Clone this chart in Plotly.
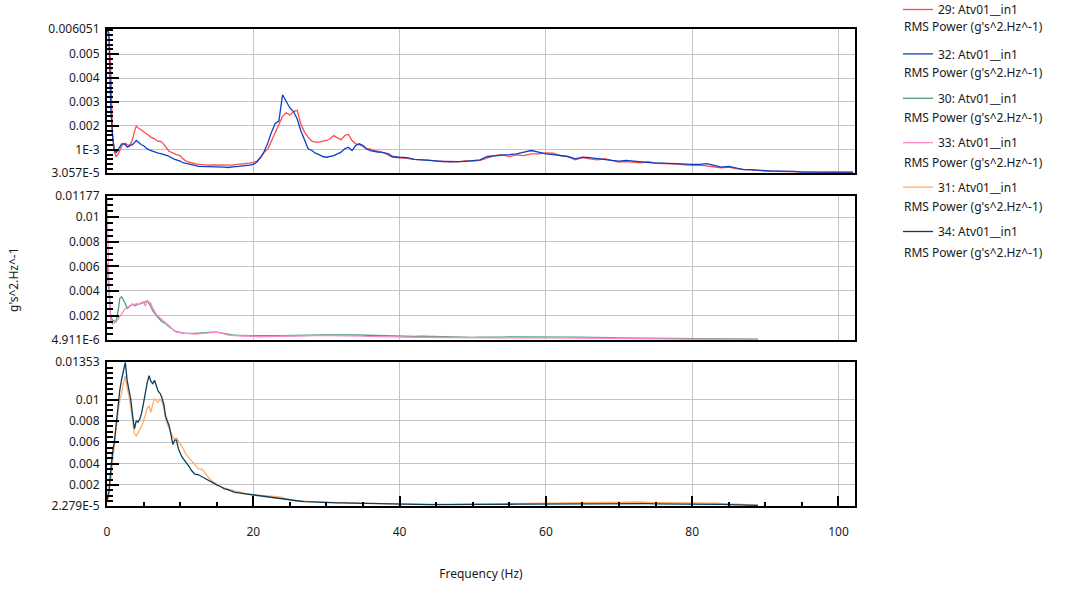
import plotly.graph_objects as go

# ---------------- data (values in units of 1e-3 g's^2/Hz) ----------------
freq = [
    0, 0.25, 0.5, 0.75, 1, 1.25, 1.5, 1.75, 2, 2.25, 2.5, 2.75, 3, 3.25, 3.5, 3.75,
    4, 4.25, 4.5, 4.75, 5, 5.25, 5.5, 5.75, 6, 6.25, 6.5, 6.75, 7, 7.25, 7.5, 7.75,
    8, 8.25, 8.5, 8.75, 9, 9.25, 9.5, 9.75, 10, 10.25, 10.5, 10.75, 11, 11.25, 11.5, 11.75,
    12,
    12.5, 13, 13.5, 14, 14.5, 15, 15.5, 16, 16.5, 17, 17.5, 18, 18.5, 19, 19.5, 20,
    20.5, 21, 21.5, 22, 22.5, 23, 23.5, 24, 24.5, 25, 25.5, 26, 26.5, 27, 27.5, 28,
    28.5, 29, 29.5, 30, 30.5, 31, 31.5, 32, 32.5, 33, 33.5, 34, 34.5, 35, 35.5, 36,
    36.5, 37, 37.5, 38, 38.5, 39, 39.5, 40,
    41, 42, 43, 44, 45, 46, 47, 48, 49, 50, 51, 52, 53, 54, 55, 56, 57, 58, 59, 60,
    61, 62, 63, 64, 65, 66, 67, 68, 69, 70, 71, 72, 73, 74, 75, 76, 77, 78, 79, 80,
    81, 82, 83, 84, 85, 86, 87, 88, 89, 90, 91, 92, 93, 94, 95, 96, 97, 98, 99, 100,
    101, 102,
]

psd_29 = [
    6.05, 5.8, 4.5, 1.7, 0.9, 0.72, 0.8, 1.0,
    1.15, 1.25, 1.28, 1.22, 1.18, 1.25, 1.45, 1.75,
    1.99, 1.92, 1.87, 1.8, 1.74, 1.7, 1.67, 1.6,
    1.53, 1.5, 1.46, 1.4, 1.35, 1.36, 1.32, 1.24,
    1.14, 1.02, 0.93, 0.9, 0.86, 0.84, 0.8, 0.78,
    0.76, 0.66, 0.58, 0.54, 0.51, 0.48, 0.46, 0.44,
    0.42,
    0.39, 0.375, 0.37, 0.36, 0.37, 0.36, 0.35, 0.35,
    0.36, 0.36, 0.37, 0.39, 0.4, 0.42, 0.44, 0.47,
    0.53, 0.67, 0.9, 1.04, 1.39, 1.67, 2.08, 2.4,
    2.55, 2.45, 2.6, 2.65, 2.08, 1.74, 1.53, 1.36,
    1.32, 1.32, 1.36, 1.39, 1.46, 1.6, 1.5, 1.42,
    1.6, 1.65, 1.39, 1.25, 1.22, 1.14, 1.04, 1.04,
    0.97, 0.94, 0.9, 0.86, 0.76, 0.69, 0.67, 0.67,
    0.64, 0.6, 0.6, 0.57, 0.53, 0.5, 0.52, 0.5, 0.55, 0.53,
    0.56, 0.67, 0.76, 0.8, 0.72, 0.79, 0.76, 0.83, 0.83, 0.875,
    0.86, 0.76, 0.72, 0.58, 0.67, 0.625, 0.58, 0.625, 0.56, 0.49,
    0.51, 0.49, 0.46, 0.5, 0.44, 0.42, 0.42, 0.4, 0.375, 0.35,
    0.36, 0.33, 0.31, 0.25, 0.28, 0.21, 0.18, 0.17, 0.14, 0.11,
    0.1, 0.09, 0.08, 0.08, 0.07, 0.07, 0.06, 0.06, 0.07, 0.06,
    0.06, 0.06,
]

psd_32 = [
    6.0, 5.9, 2.85, 1.6, 0.97, 0.88, 1.0, 1.11,
    1.25, 1.25, 1.22, 1.12, 1.14, 1.2, 1.22, 1.3,
    1.39, 1.33, 1.25, 1.2, 1.18, 1.1, 1.04, 1.0,
    0.97, 0.93, 0.9, 0.88, 0.86, 0.85, 0.83, 0.82,
    0.8, 0.76, 0.72, 0.67, 0.625, 0.6, 0.58, 0.56,
    0.53, 0.48, 0.44, 0.43, 0.42, 0.41, 0.39, 0.37,
    0.35,
    0.31, 0.31, 0.3, 0.29, 0.29, 0.29, 0.28, 0.28,
    0.26, 0.29, 0.3, 0.31, 0.32, 0.33, 0.36, 0.39,
    0.49, 0.69, 0.94, 1.3, 1.75, 2.1, 2.2, 3.3,
    3.0, 2.75, 2.6, 2.29, 1.8, 1.39, 1.04, 0.97,
    0.86, 0.8, 0.72, 0.69, 0.72, 0.76, 0.83, 0.9,
    1.04, 1.11, 0.97, 1.18, 1.25, 1.18, 1.04, 0.97,
    0.94, 0.9, 0.9, 0.86, 0.83, 0.72, 0.69, 0.69,
    0.67, 0.6, 0.58, 0.55, 0.53, 0.52, 0.5, 0.5, 0.52, 0.55,
    0.58, 0.72, 0.76, 0.78, 0.8, 0.83, 0.9, 0.97, 0.9, 0.83,
    0.8, 0.76, 0.72, 0.625, 0.69, 0.67, 0.625, 0.6, 0.56, 0.53,
    0.56, 0.53, 0.49, 0.47, 0.44, 0.44, 0.42, 0.42, 0.39, 0.39,
    0.39, 0.42, 0.35, 0.28, 0.31, 0.24, 0.17, 0.17, 0.14, 0.14,
    0.11, 0.11, 0.11, 0.1, 0.07, 0.07, 0.07, 0.07, 0.07, 0.07,
    0.07, 0.07,
]

psd_30 = [
    6.3, 4.0, 2.0, 1.6, 1.57, 1.5, 2.3, 3.4,
    3.52, 3.3, 2.98, 2.57, 2.71, 2.85, 2.93, 2.8,
    2.85, 2.9, 2.93, 2.95, 3.03, 3.1, 3.2, 3.0,
    2.71, 2.4, 2.17, 2.0, 1.84, 1.65, 1.49, 1.42,
    1.35, 1.2, 1.08, 0.95, 0.81, 0.74, 0.68, 0.64,
    0.6, 0.58, 0.56, 0.55, 0.54, 0.54, 0.53, 0.54,
    0.54,
    0.57, 0.6, 0.61, 0.62, 0.64, 0.65, 0.6, 0.54,
    0.46, 0.41, 0.39, 0.38, 0.36, 0.35, 0.35, 0.35,
    0.35, 0.36, 0.35, 0.35, 0.37, 0.36, 0.35, 0.35,
    0.36, 0.38, 0.37, 0.36, 0.38, 0.39, 0.4, 0.41,
    0.42, 0.42, 0.41, 0.41, 0.42, 0.43, 0.42, 0.41,
    0.42, 0.43, 0.42, 0.41, 0.4, 0.41, 0.39, 0.38,
    0.37, 0.36, 0.35, 0.35, 0.34, 0.33, 0.33, 0.33,
    0.32, 0.3, 0.32, 0.3, 0.33, 0.3, 0.28, 0.25, 0.24, 0.22,
    0.24, 0.22, 0.25, 0.24, 0.26, 0.25, 0.27, 0.26, 0.25, 0.26,
    0.24, 0.25, 0.23, 0.24, 0.22, 0.21, 0.2, 0.21, 0.19, 0.18,
    0.17, 0.18, 0.16, 0.16, 0.15, 0.15, 0.14, 0.13, 0.13, 0.12,
    0.12, 0.11, 0.11, 0.1, 0.1, 0.09, 0.09, 0.08, 0.08, None,
    None, None, None, None, None, None, None, None, None, None,
    None, None,
]

psd_33 = [
    11.77, 5.0, 1.6, 1.3, 1.41, 1.5, 1.68, 1.9,
    2.17, 2.4, 2.57, 2.65, 2.76, 2.85, 2.93, 2.85,
    2.98, 2.9, 2.98, 3.05, 3.12, 2.76, 3.2, 3.1,
    2.98, 2.6, 2.3, 2.1, 1.95, 1.8, 1.63, 1.5,
    1.41, 1.28, 1.14, 0.97, 0.81, 0.72, 0.65, 0.62,
    0.6, 0.58, 0.56, 0.55, 0.54, 0.52, 0.5, 0.5,
    0.49,
    0.5, 0.54, 0.56, 0.6, 0.62, 0.65, 0.58, 0.49,
    0.42, 0.38, 0.35, 0.33, 0.33, 0.33, 0.3, 0.27,
    0.27, 0.27, 0.28, 0.27, 0.28, 0.3, 0.3, 0.31,
    0.32, 0.34, 0.35, 0.36, 0.37, 0.38, 0.38, 0.39,
    0.39, 0.4, 0.4, 0.38, 0.37, 0.37, 0.36, 0.36,
    0.35, 0.34, 0.34, 0.33, 0.32, 0.32, 0.3, 0.3,
    0.29, 0.28, 0.27, 0.27, 0.26, 0.26, 0.25, 0.25,
    0.24, 0.23, 0.22, 0.22, 0.22, 0.21, 0.2, 0.19, 0.18, 0.16,
    0.17, 0.17, 0.18, 0.18, 0.19, 0.2, 0.2, 0.21, 0.2, 0.2,
    0.19, 0.19, 0.18, 0.17, 0.16, 0.16, 0.15, 0.14, 0.14, 0.13,
    0.12, 0.12, 0.11, 0.11, 0.1, 0.1, 0.09, 0.09, 0.08, 0.08,
    0.08, 0.07, 0.07, 0.07, 0.06, 0.06, 0.06, 0.06, 0.06, None,
    None, None, None, None, None, None, None, None, None, None,
    None, None,
]

psd_31 = [
    0.3, 0.9, 2.5, 4.2, 5.4, 7.0, 8.8, 9.9,
    10.6, 11.6, 12.2, 11.1, 10.4, 9.3, 8.0, 6.8,
    6.6, 6.9, 7.2, 7.56, 8.0, 8.6, 9.2, 9.4,
    8.8, 9.6, 10.1, 9.9, 9.75, 10.1, 9.8, 9.3,
    8.2, 7.7, 7.25, 6.8, 6.5, 6.3, 6.4, 6.15,
    5.8, 5.6, 5.3, 4.9, 4.7, 4.5, 4.3, 4.0,
    3.8,
    3.5, 3.45, 3.0, 2.6, 2.3, 2.05, 1.85, 1.72,
    1.6, 1.48, 1.42, 1.38, 1.25, 1.16, 1.1, 1.06,
    1.05, 1.0, 1.0, 0.97, 0.94, 0.92, 0.88, 0.84,
    0.7, 0.6, 0.53, 0.5, 0.48, 0.45, 0.43, 0.42,
    0.4, 0.39, 0.38, 0.37, 0.36, 0.35, 0.33, 0.33,
    0.32, 0.32, 0.31, 0.31, 0.3, 0.3, 0.29, 0.28,
    0.28, 0.27, 0.26, 0.26, 0.25, 0.24, 0.23, 0.23,
    0.22, 0.2, 0.2, 0.18, 0.17, 0.18, 0.17, 0.19, 0.2, 0.2,
    0.21, 0.21, 0.22, 0.23, 0.24, 0.25, 0.27, 0.28, 0.3, 0.33,
    0.33, 0.34, 0.35, 0.34, 0.36, 0.37, 0.37, 0.38, 0.38, 0.39,
    0.42, 0.46, 0.4, 0.36, 0.36, 0.35, 0.36, 0.35, 0.34, 0.34,
    0.33, 0.3, 0.28, 0.25, 0.22, 0.18, 0.15, 0.13, 0.1, None,
    None, None, None, None, None, None, None, None, None, None,
    None, None,
]

psd_34 = [
    0.5, 1.4, 3.2, 5.0, 6.0, 7.6, 9.6, 10.9,
    11.9, 12.8, 13.5, 11.8, 11.0, 10.0, 8.5, 7.25,
    8.0, 7.9, 8.2, 8.8, 9.7, 10.7, 11.6, 12.25,
    11.7, 11.5, 11.8, 11.3, 10.8, 10.6, 10.2, 9.6,
    8.5, 8.0, 7.56, 6.7, 5.8, 6.2, 6.2, 5.4,
    4.9, 4.6, 4.4, 4.2, 4.0, 3.7, 3.4, 3.2,
    3.0,
    2.95, 2.75, 2.55, 2.35, 2.2, 2.0, 1.85, 1.65,
    1.55, 1.4, 1.3, 1.25, 1.2, 1.15, 1.1, 1.06,
    1.03, 1.0, 0.95, 0.9, 0.84, 0.8, 0.72, 0.69,
    0.62, 0.55, 0.52, 0.5, 0.47, 0.44, 0.42, 0.4,
    0.39, 0.38, 0.37, 0.36, 0.34, 0.33, 0.31, 0.31,
    0.3, 0.3, 0.3, 0.3, 0.3, 0.3, 0.28, 0.27,
    0.26, 0.25, 0.24, 0.22, 0.2, 0.18, 0.17, 0.16,
    0.16, 0.15, 0.16, 0.15, 0.16, 0.15, 0.17, 0.16, 0.17, 0.16,
    0.17, 0.18, 0.17, 0.18, 0.2, 0.19, 0.2, 0.21, 0.22, 0.23,
    0.22, 0.23, 0.22, 0.23, 0.23, 0.22, 0.23, 0.24, 0.23, 0.26,
    0.24, 0.23, 0.23, 0.24, 0.23, 0.23, 0.22, 0.23, 0.24, 0.23,
    0.22, 0.2, 0.19, 0.18, 0.16, 0.14, 0.12, 0.1, 0.08, None,
    None, None, None, None, None, None, None, None, None, None,
    None, None,
]

names = ["29: Atv01__in1", "32: Atv01__in1", "30: Atv01__in1",
         "33: Atv01__in1", "31: Atv01__in1", "34: Atv01__in1"]
legend_subtitle = "RMS Power (g's^2.Hz^-1)"
y_title = "g's^2.Hz^-1"
x_title = "Frequency (Hz)"

# tick values / labels for each panel
top_tickvals = [3.057e-5, 0.001, 0.002, 0.003, 0.004, 0.005, 0.006051]
top_ticktext = ["3.057E-5", "1E-3", "0.002", "0.003", "0.004", "0.005", "0.006051"]
mid_tickvals = [4.911e-6, 0.002, 0.004, 0.006, 0.008, 0.01, 0.01177]
mid_ticktext = ["4.911E-6", "0.002", "0.004", "0.006", "0.008", "0.01", "0.01177"]
bot_tickvals = [2.279e-5, 0.002, 0.004, 0.006, 0.008, 0.01, 0.01353]
bot_ticktext = ["2.279E-5", "0.002", "0.004", "0.006", "0.008", "0.01", "0.01353"]
x_range = [0, 102.26]

UNIT = 1e-3
series = [psd_29, psd_32, psd_30, psd_33, psd_31, psd_34]
for s in series:
    assert len(s) == len(freq), (len(s), len(freq))

colors = ["#FF4B4B", "#0B3FC6", "#4E9E78", "#FF86D0", "#FFAE6B", "#0A3D5E"]
yaxes = ["y", "y", "y2", "y2", "y3", "y3"]
xaxes = ["x", "x", "x2", "x2", "x3", "x3"]

fig = go.Figure()
for i, (nm, s) in enumerate(zip(names, series)):
    fig.add_trace(go.Scatter(
        x=freq, y=[None if v is None else v * UNIT for v in s],
        mode="lines", name=nm, legendgroup=str(i),
        line=dict(color=colors[i], width=1.3),
        xaxis=xaxes[i], yaxis=yaxes[i], connectgaps=False,
    ))

W, H = 1070, 593
ML, MR, MT, MB = 107, 215, 29, 87
PW, PH = W - ML - MR, H - MT - MB


def py(ypx):
    return (H - MB - ypx) / PH


def px(xpx):
    return (xpx - ML) / PW


FONT = "Noto Sans, Open Sans, DejaVu Sans, sans-serif"
GRID = "#C4C4C4"

xbase = dict(range=x_range, tickmode="linear", tick0=0, dtick=20, showgrid=True,
             gridcolor=GRID, gridwidth=1, showline=True, linecolor="black",
             linewidth=2, mirror=True, zeroline=False, fixedrange=True)
ybase = dict(tickmode="array", showgrid=True, gridcolor=GRID, gridwidth=1,
             showline=True, linecolor="black", linewidth=2, mirror=True,
             zeroline=False, ticks="inside", ticklen=12, tickwidth=1.5,
             tickcolor="black", ticklabelstandoff=3,
             tickfont=dict(size=12, color="#1a1a1a", family=FONT))

fig.update_layout(
    width=W, height=H,
    margin=dict(l=ML, r=MR, t=MT, b=MB, autoexpand=False),
    paper_bgcolor="white", plot_bgcolor="white",
    font=dict(family=FONT, size=12, color="#1a1a1a"),
    showlegend=True,
    legend=dict(x=px(898), y=py(-5), xanchor="left", yanchor="top",
                bgcolor="rgba(0,0,0,0)", tracegroupgap=25.4,
                font=dict(size=12, color="#1a1a1a", family=FONT)),
    xaxis=dict(xbase, domain=[0, 1], anchor="y", showticklabels=False, ticks=""),
    xaxis2=dict(xbase, domain=[0, 1], anchor="y2", showticklabels=False, ticks="", matches="x"),
    xaxis3=dict(xbase, domain=[0, 1], anchor="y3", matches="x",
                ticks="inside", ticklen=10, tickwidth=1.5, tickcolor="black",
                minor=dict(dtick=5, tick0=0, ticks="inside", ticklen=4, tickcolor="black", showgrid=False),
                ticklabelstandoff=14,
                tickfont=dict(size=12, color="#1a1a1a", family=FONT),
                title=dict(text=x_title, standoff=30, font=dict(size=12, color="#1a1a1a", family=FONT))),
    yaxis=dict(ybase, domain=[py(173), 1], range=[top_tickvals[0], top_tickvals[-1]],
               tickvals=top_tickvals, ticktext=top_ticktext,
               minor=dict(tickmode="linear", tick0=0, dtick=0.0002, ticks="inside", ticklen=6,
                          tickcolor="black", showgrid=False)),
    yaxis2=dict(ybase, domain=[py(340), py(195.5)], range=[mid_tickvals[0], mid_tickvals[-1]],
                tickvals=mid_tickvals, ticktext=mid_ticktext,
                minor=dict(tickmode="linear", tick0=0, dtick=0.0005, ticks="inside", ticklen=6,
                           tickcolor="black", showgrid=False)),
    yaxis3=dict(ybase, domain=[0, py(362)], range=[bot_tickvals[0], bot_tickvals[-1]],
                tickvals=bot_tickvals, ticktext=bot_ticktext,
                minor=dict(tickmode="linear", tick0=0, dtick=0.0005, ticks="inside", ticklen=6,
                           tickcolor="black", showgrid=False)),
)

annotations = [dict(text=y_title, textangle=-90, xref="paper", yref="paper",
                    x=px(13), y=py(280), xanchor="center", yanchor="middle",
                    showarrow=False, font=dict(size=12, color="#1a1a1a", family=FONT))]
for k in range(len(names)):
    annotations.append(dict(text=legend_subtitle, xref="paper", yref="paper",
                            x=px(902), y=py(27 + 45 * k), xanchor="left", yanchor="middle",
                            showarrow=False, font=dict(size=12, color="#1a1a1a", family=FONT)))
fig.update_layout(annotations=annotations)

fig.write_html("out.html", config={"displayModeBar": False},
               post_script="document.body.style.margin='0';document.body.style.overflow='hidden';")
